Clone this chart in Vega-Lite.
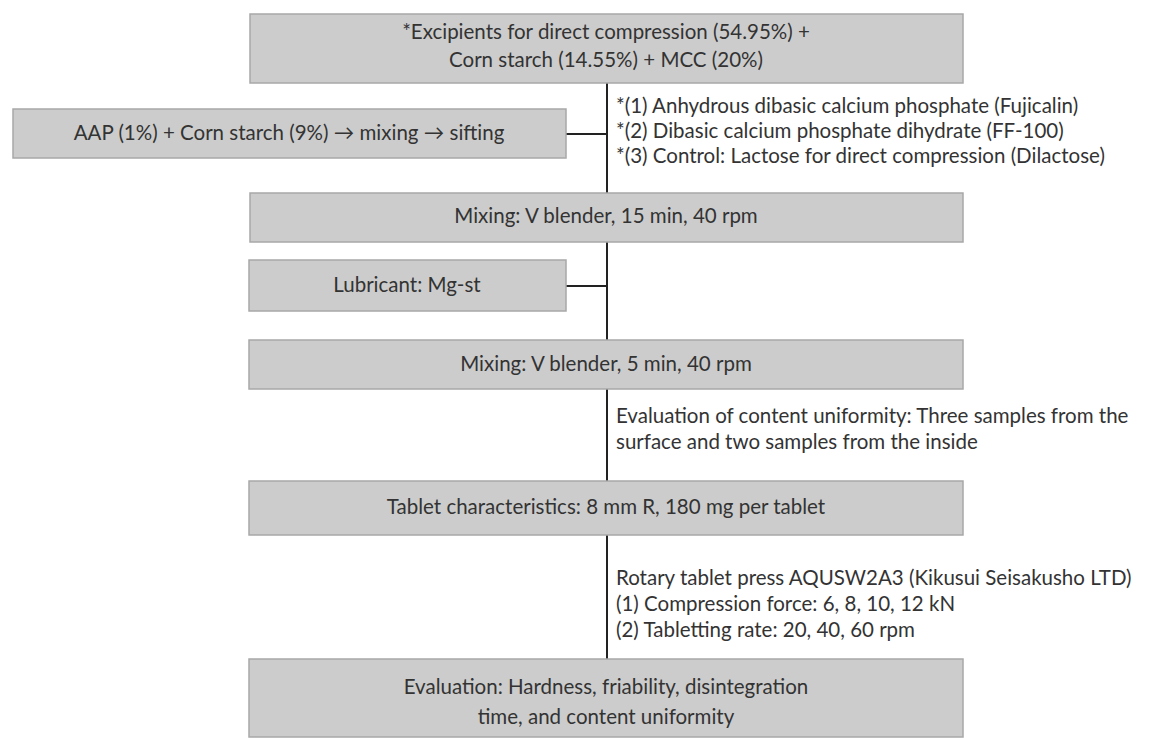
{
  "$schema": "https://vega.github.io/schema/vega-lite/v6.json",
  "width": 1164,
  "height": 738,
  "autosize": {"type": "fit", "contains": "padding"},
  "padding": 0,
  "background": "white",
  "config": {"view": {"stroke": null}},
  "datasets": {
    "boxes": [
      {"id": "start", "x0": 250, "x1": 963, "y0": 14, "y1": 83},
      {"id": "aap", "x0": 13, "x1": 566, "y0": 109, "y1": 158},
      {"id": "mix15", "x0": 250, "x1": 963, "y0": 193, "y1": 242},
      {"id": "lub", "x0": 249, "x1": 566, "y0": 260, "y1": 311},
      {"id": "mix5", "x0": 249, "x1": 963, "y0": 340, "y1": 389},
      {"id": "tablet", "x0": 249, "x1": 963, "y0": 481, "y1": 535},
      {"id": "eval", "x0": 249, "x1": 963, "y0": 659, "y1": 737}
    ],
    "links": [
      {"x0": 607, "x1": 607, "y0": 83, "y1": 659},
      {"x0": 566, "x1": 607, "y0": 134, "y1": 134},
      {"x0": 566, "x1": 607, "y0": 286, "y1": 286}
    ],
    "labels": [
      {"t": "*Excipients for direct compression (54.95%) +", "x": 606, "y": 33},
      {"t": "Corn starch (14.55%) + MCC (20%)", "x": 606, "y": 61},
      {"t": "AAP (1%) + Corn starch (9%) → mixing → sifting", "x": 289, "y": 134},
      {"t": "Mixing: V blender, 15 min, 40 rpm", "x": 606, "y": 217},
      {"t": "Lubricant: Mg-st", "x": 407, "y": 286},
      {"t": "Mixing: V blender, 5 min, 40 rpm", "x": 606, "y": 365},
      {"t": "Tablet characteristics: 8 mm R, 180 mg per tablet", "x": 606, "y": 508},
      {"t": "Evaluation: Hardness, friability, disintegration", "x": 606, "y": 688},
      {"t": "time, and content uniformity", "x": 606, "y": 718}
    ],
    "notes": [
      {"t": "*(1) Anhydrous dibasic calcium phosphate (Fujicalin)", "x": 616, "y": 107},
      {"t": "*(2) Dibasic calcium phosphate dihydrate (FF-100)", "x": 616, "y": 132},
      {"t": "*(3) Control: Lactose for direct compression (Dilactose)", "x": 616, "y": 157},
      {"t": "Evaluation of content uniformity: Three samples from the", "x": 616, "y": 417},
      {"t": "surface and two samples from the inside", "x": 616, "y": 443},
      {"t": "Rotary tablet press AQUSW2A3 (Kikusui Seisakusho LTD)", "x": 616, "y": 579},
      {"t": "(1) Compression force: 6, 8, 10, 12 kN", "x": 616, "y": 605},
      {"t": "(2) Tabletting rate: 20, 40, 60 rpm", "x": 616, "y": 631}
    ]
  },
  "layer": [
    {
      "data": {"name": "links"},
      "mark": {"type": "rule", "color": "#222222", "strokeWidth": 2},
      "encoding": {
        "x": {"field": "x0", "type": "quantitative", "scale": {"domain": [0, 1164], "nice": false, "zero": false}, "axis": null},
        "x2": {"field": "x1"},
        "y": {"field": "y0", "type": "quantitative", "scale": {"domain": [0, 738], "nice": false, "zero": false, "reverse": true}, "axis": null},
        "y2": {"field": "y1"}
      }
    },
    {
      "data": {"name": "boxes"},
      "mark": {"type": "rect", "fill": "#cccccc", "stroke": "#a8a8a8", "strokeWidth": 1.5},
      "encoding": {
        "x": {"field": "x0", "type": "quantitative", "scale": {"domain": [0, 1164], "nice": false, "zero": false}, "axis": null},
        "x2": {"field": "x1"},
        "y": {"field": "y0", "type": "quantitative", "scale": {"domain": [0, 738], "nice": false, "zero": false, "reverse": true}, "axis": null},
        "y2": {"field": "y1"}
      }
    },
    {
      "data": {"name": "labels"},
      "mark": {"type": "text", "align": "center", "baseline": "middle", "font": "Lato", "fontSize": 20.5, "color": "#333333"},
      "encoding": {
        "x": {"field": "x", "type": "quantitative", "scale": {"domain": [0, 1164], "nice": false, "zero": false}, "axis": null},
        "y": {"field": "y", "type": "quantitative", "scale": {"domain": [0, 738], "nice": false, "zero": false, "reverse": true}, "axis": null},
        "text": {"field": "t"}
      }
    },
    {
      "data": {"name": "notes"},
      "mark": {"type": "text", "align": "left", "baseline": "middle", "font": "Lato", "fontSize": 20.5, "color": "#333333"},
      "encoding": {
        "x": {"field": "x", "type": "quantitative", "scale": {"domain": [0, 1164], "nice": false, "zero": false}, "axis": null},
        "y": {"field": "y", "type": "quantitative", "scale": {"domain": [0, 738], "nice": false, "zero": false, "reverse": true}, "axis": null},
        "text": {"field": "t"}
      }
    }
  ]
}
